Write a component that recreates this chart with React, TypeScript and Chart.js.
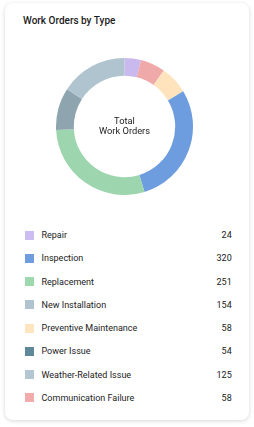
import React, { useEffect, useRef } from "react";
import { Chart, registerables } from "chart.js";

Chart.register(...registerables);

// Legend (as listed)
const legendLabels = [
  "Repair",
  "Inspection",
  "Replacement",
  "New Installation",
  "Preventive Maintenance",
  "Power Issue",
  "Weather-Related Issue",
  "Communication Failure",
];
const legendValues = [24, 320, 251, 154, 58, 54, 125, 58];
const legendColors = [
  "#cbbcf2",
  "#6f9ddf",
  "#9dd8ae",
  "#b0c3ce",
  "#ffe5bf",
  "#5f889b",
  "#b3c6d1",
  "#f2abab",
];

// Donut segments (clockwise from top, shares read from the ring)
const donutLabels = [
  "Repair",
  "Communication Failure",
  "Preventive Maintenance",
  "Inspection",
  "Replacement",
  "Power Issue",
  "Weather-Related Issue",
];
const donutValues = [14, 21, 24, 104, 104, 36, 57];
const donutColors = [
  "#c9b9ee",
  "#f0a9a9",
  "#fee3bd",
  "#6e9ddf",
  "#9dd6ae",
  "#8ea5af",
  "#afc4ce",
];

const FONT = "Roboto, 'Noto Sans', Arial, sans-serif";

export default function App() {
  const ref = useRef<HTMLCanvasElement | null>(null);

  useEffect(() => {
    if (!ref.current) return;
    const chart = new Chart(ref.current, {
      type: "doughnut",
      data: {
        labels: donutLabels,
        datasets: [
          {
            data: donutValues,
            backgroundColor: donutColors,
            borderWidth: 0,
          },
        ],
      },
      options: {
        responsive: false,
        animation: false,
        cutout: "74%",
        layout: { padding: 0 },
        plugins: {
          legend: { display: false },
          tooltip: { enabled: false },
        },
      },
    });
    return () => chart.destroy();
  }, []);

  return (
    <div
      style={{
        position: "absolute",
        left: 0,
        top: 0,
        width: 254,
        height: 427,
        background: "#ffffff",
        fontFamily: FONT,
      }}
    >
      <div
        style={{
          position: "absolute",
          left: 5,
          top: 3,
          width: 244,
          height: 417,
          borderRadius: 8,
          background: "#fff",
          boxShadow: "0 1px 4px rgba(0,0,0,0.16)",
        }}
      />
      <div
        style={{
          position: "absolute",
          left: 23,
          top: 14.6,
          fontSize: 10,
          lineHeight: "12px",
          fontWeight: 500,
          color: "#1c1c1c",
          whiteSpace: "nowrap",
        }}
      >
        Work Orders by Type
      </div>
      <canvas
        ref={ref}
        width={137}
        height={137}
        style={{
          position: "absolute",
          left: 56,
          top: 57.5,
          width: 137,
          height: 137,
        }}
      />
      <div
        style={{
          position: "absolute",
          left: 74,
          top: 115.5,
          width: 101,
          textAlign: "center",
          fontSize: 9.3,
          lineHeight: "10.3px",
          color: "#222",
        }}
      >
        Total
        <br />
        Work Orders
      </div>
      {legendLabels.map((label, i) => (
        <div
          key={label}
          style={{
            position: "absolute",
            left: 0,
            top: 229 + i * 23.25,
            width: 254,
            height: 12,
          }}
        >
          <div
            style={{
              position: "absolute",
              left: 25,
              top: 1.5,
              width: 9,
              height: 9,
              background: legendColors[i],
            }}
          />
          <div
            style={{
              position: "absolute",
              left: 41.5,
              top: 0,
              fontSize: 9,
              lineHeight: "12px",
              color: "#222",
              whiteSpace: "nowrap",
            }}
          >
            {label}
          </div>
          <div
            style={{
              position: "absolute",
              right: 254 - 231.7,
              top: 0,
              fontSize: 9,
              lineHeight: "12px",
              color: "#222",
              textAlign: "right",
            }}
          >
            {legendValues[i]}
          </div>
        </div>
      ))}
    </div>
  );
}
